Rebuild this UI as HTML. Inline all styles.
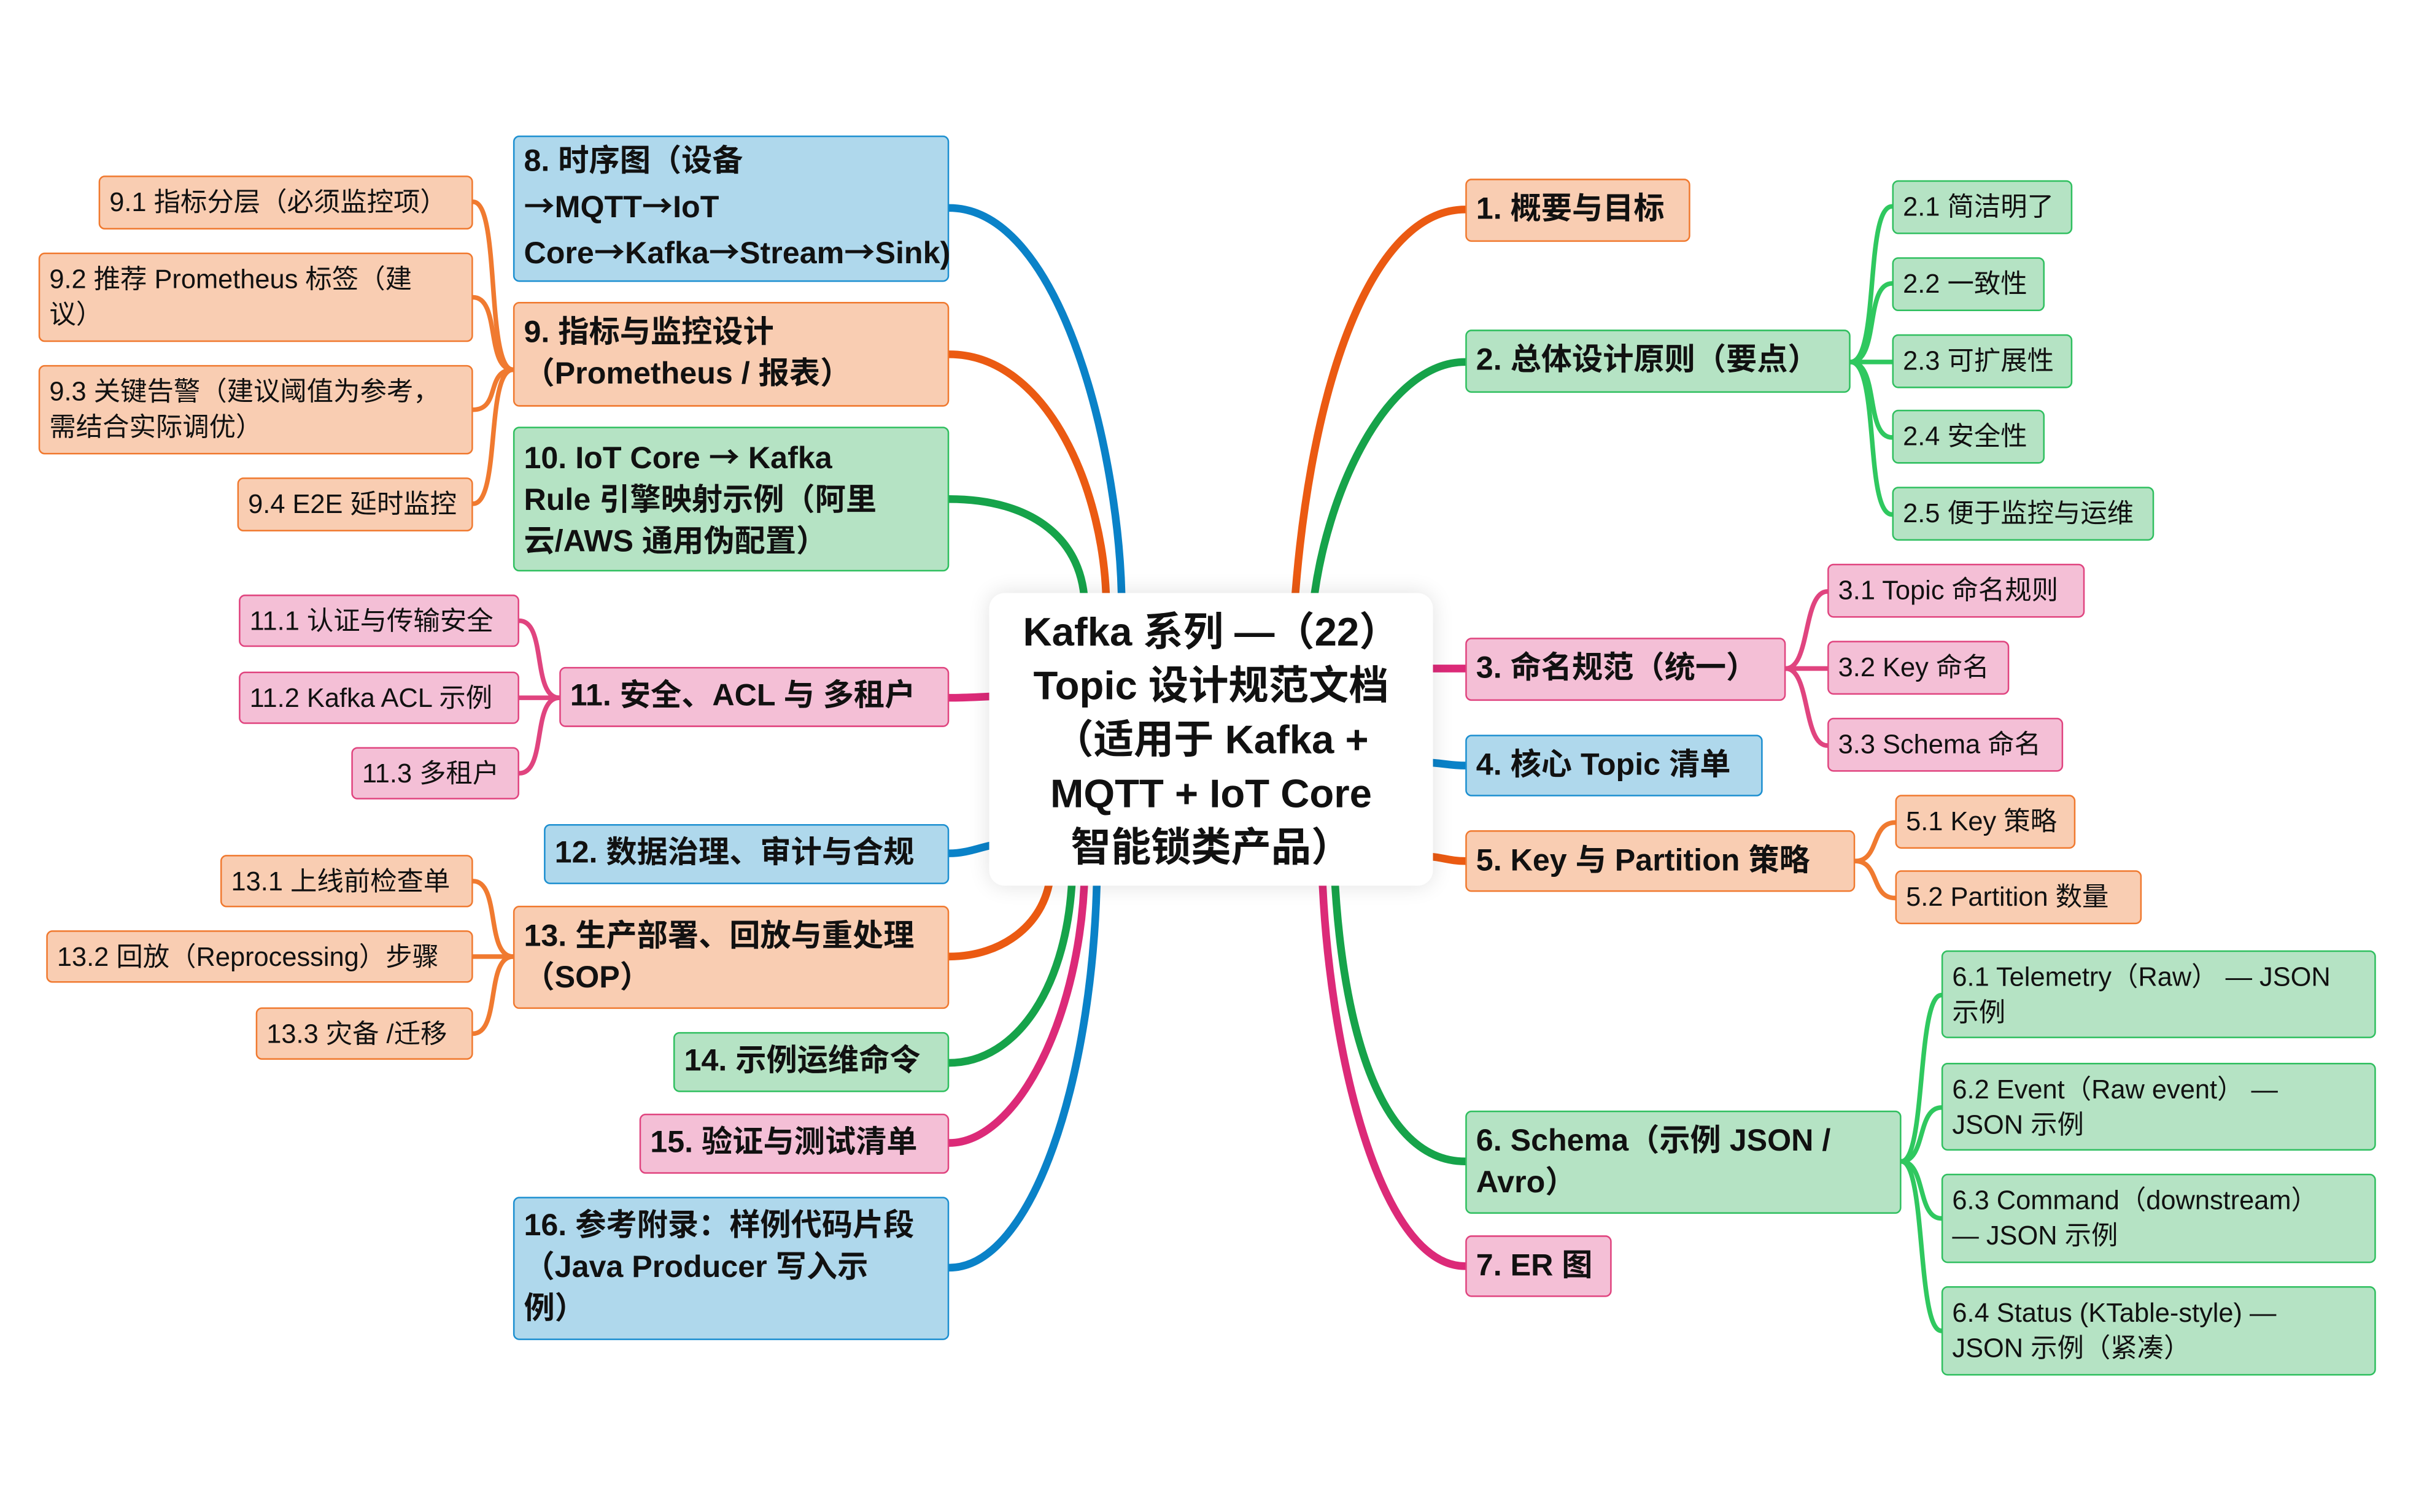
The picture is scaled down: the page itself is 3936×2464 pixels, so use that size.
<!DOCTYPE html>
<html><head><meta charset="utf-8">
<style>
html,body{margin:0;padding:0;background:#fff;}
#wrap{width:3936px;height:2464px;overflow:hidden;position:relative;background:#fff;}
#s{position:absolute;left:0;top:0;width:1568px;height:982px;transform:scale(2.5102);transform-origin:0 0;font-family:"Liberation Sans","Noto Sans CJK SC",sans-serif;}
.b{position:absolute;box-sizing:border-box;border:1.3px solid;border-radius:4px;display:flex;align-items:center;padding:0 6px;color:#111;white-space:nowrap;}
.m{font-weight:bold;font-size:20px;line-height:27px;}
.c{font-size:17.3px;line-height:23px;}
.o{background:#f9cdb2;border-color:#f0792f;}
.g{background:#b5e3c4;border-color:#2fbf5f;}
.p{background:#f4bfd6;border-color:#e0447f;}
.u{background:#afd8ec;border-color:#1c8fd0;}
.ar{font-family:"Noto Sans CJK SC",sans-serif;}
#ctr{position:absolute;left:642px;top:385px;width:288px;height:190px;background:#fff;border-radius:10px;box-shadow:0 0 14px rgba(0,0,0,0.12);font-weight:bold;font-size:26px;line-height:35px;text-align:center;color:#111;display:flex;align-items:center;justify-content:center;}
svg{position:absolute;left:0;top:0;}
</style></head><body><div id="wrap"><div id="s">
<svg width="1568" height="982" fill="none" stroke-linecap="round">
<g stroke-width="5">
<path d="M616 135 C690 135,728 300,728 395" stroke="#0a82c8"/>
<path d="M616 230 C680 230,718 320,718 395" stroke="#eb5a12"/>
<path d="M616 324 C670 324,704 350,704 395" stroke="#16a34a"/>
<path d="M616 453 C630 453,640 452,650 452" stroke="#dc2a78"/>
<path d="M616 554 C630 554,640 548,650 548" stroke="#0a82c8"/>
<path d="M616 621 C650 621,680 600,682 565" stroke="#eb5a12"/>
<path d="M616 690 C660 690,694 640,696 565" stroke="#16a34a"/>
<path d="M616 742 C660 742,702 660,704 565" stroke="#dc2a78"/>
<path d="M616 823 C670 823,710 700,712 565" stroke="#0a82c8"/>
<path d="M951 136 C890 136,850 250,840 395" stroke="#eb5a12"/>
<path d="M951 235 C900 235,860 320,852 395" stroke="#16a34a"/>
<path d="M951 434 L925 434" stroke="#dc2a78"/>
<path d="M951 497 C940 497,935 495,925 495" stroke="#0a82c8"/>
<path d="M951 559 C940 559,935 556,925 556" stroke="#eb5a12"/>
<path d="M951 754 C890 754,870 650,866 565" stroke="#16a34a"/>
<path d="M951 822 C895 822,862 680,858 565" stroke="#dc2a78"/>
</g>
<g stroke-width="3">
<path d="M333 240 C315 240,325 131,307 131" stroke="#f07a30"/>
<path d="M333 240 C315 240,325 193,307 193" stroke="#f07a30"/>
<path d="M333 240 C315 240,325 266,307 266" stroke="#f07a30"/>
<path d="M333 240 C315 240,325 327,307 327" stroke="#f07a30"/>
<path d="M363 453 C345 453,355 403,337 403" stroke="#e0447f"/>
<path d="M363 453 L337 453" stroke="#e0447f"/>
<path d="M363 453 C345 453,355 502,337 502" stroke="#e0447f"/>
<path d="M333 621 C315 621,325 572,307 572" stroke="#f07a30"/>
<path d="M333 621 L307 621" stroke="#f07a30"/>
<path d="M333 621 C315 621,325 671,307 671" stroke="#f07a30"/>
<path d="M1201 235 C1220 235,1210 134,1228 134" stroke="#2fc85f"/>
<path d="M1201 235 C1220 235,1210 184,1228 184" stroke="#2fc85f"/>
<path d="M1201 235 L1228 235" stroke="#2fc85f"/>
<path d="M1201 235 C1220 235,1210 284,1228 284" stroke="#2fc85f"/>
<path d="M1201 235 C1220 235,1210 334,1228 334" stroke="#2fc85f"/>
<path d="M1159 434 C1175 434,1170 384,1186 384" stroke="#e0447f"/>
<path d="M1159 434 L1186 434" stroke="#e0447f"/>
<path d="M1159 434 C1175 434,1170 484,1186 484" stroke="#e0447f"/>
<path d="M1204 559 C1220 559,1214 534,1230 534" stroke="#f07a30"/>
<path d="M1204 559 C1220 559,1214 583,1230 583" stroke="#f07a30"/>
<path d="M1234 754 C1250 754,1244 646,1260 646" stroke="#2fc85f"/>
<path d="M1234 754 C1250 754,1244 719,1260 719" stroke="#2fc85f"/>
<path d="M1234 754 C1250 754,1244 791,1260 791" stroke="#2fc85f"/>
<path d="M1234 754 C1250 754,1244 864,1260 864" stroke="#2fc85f"/>
</g>
</svg>
<div id="ctr"><div>Kafka 系列 —（22）<br>Topic 设计规范文档<br>（适用于 Kafka +<br>MQTT + IoT Core<br>智能锁类产品）</div></div>

<div class="b m o" style="left:951px;top:116px;width:146px;height:41px">1. 概要与目标</div>
<div class="b m g" style="left:951px;top:214px;width:250px;height:41px">2. 总体设计原则（要点）</div>
<div class="b c g" style="left:1228px;top:117px;width:117px;height:35px">2.1 简洁明了</div>
<div class="b c g" style="left:1228px;top:167px;width:99px;height:35px">2.2 一致性</div>
<div class="b c g" style="left:1228px;top:217px;width:117px;height:35px">2.3 可扩展性</div>
<div class="b c g" style="left:1228px;top:266px;width:99px;height:35px">2.4 安全性</div>
<div class="b c g" style="left:1228px;top:316px;width:170px;height:35px">2.5 便于监控与运维</div>
<div class="b m p" style="left:951px;top:414px;width:208px;height:41px">3. 命名规范（统一）</div>
<div class="b c p" style="left:1186px;top:366px;width:167px;height:35px">3.1 Topic 命名规则</div>
<div class="b c p" style="left:1186px;top:416px;width:118px;height:35px">3.2 Key 命名</div>
<div class="b c p" style="left:1186px;top:466px;width:153px;height:35px">3.3 Schema 命名</div>
<div class="b m u" style="left:951px;top:477px;width:193px;height:40px">4. 核心 Topic 清单</div>
<div class="b m o" style="left:951px;top:539px;width:253px;height:40px">5. Key 与 Partition 策略</div>
<div class="b c o" style="left:1230px;top:516px;width:117px;height:35px">5.1 Key 策略</div>
<div class="b c o" style="left:1230px;top:565px;width:160px;height:35px">5.2 Partition 数量</div>
<div class="b m g" style="left:951px;top:721px;width:283px;height:67px">6. Schema（示例 JSON /<br>Avro）</div>
<div class="b c g" style="left:1260px;top:617px;width:282px;height:57px">6.1 Telemetry（Raw） — JSON<br>示例</div>
<div class="b c g" style="left:1260px;top:690px;width:282px;height:57px">6.2 Event（Raw event） —<br>JSON 示例</div>
<div class="b c g" style="left:1260px;top:762px;width:282px;height:58px">6.3 Command（downstream）<br>— JSON 示例</div>
<div class="b c g" style="left:1260px;top:835px;width:282px;height:58px">6.4 Status (KTable-style) —<br>JSON 示例（紧凑）</div>
<div class="b m p" style="left:951px;top:802px;width:95px;height:40px">7. ER 图</div>

<div class="b m u" style="left:333px;top:88px;width:283px;height:95px"><div>8. 时序图（设备<br><span class="ar">→</span>MQTT<span class="ar">→</span>IoT<br>Core<span class="ar">→</span>Kafka<span class="ar">→</span>Stream<span class="ar">→</span>Sink)</div></div>
<div class="b m o" style="left:333px;top:196px;width:283px;height:68px">9. 指标与监控设计<br>（Prometheus / 报表）</div>
<div class="b c o" style="left:64px;top:114px;width:243px;height:35px">9.1 指标分层（必须监控项）</div>
<div class="b c o" style="left:25px;top:164px;width:282px;height:58px">9.2 推荐 Prometheus 标签（建<br>议）</div>
<div class="b c o" style="left:25px;top:237px;width:282px;height:58px">9.3 关键告警（建议阈值为参考，<br>需结合实际调优）</div>
<div class="b c o" style="left:154px;top:310px;width:153px;height:35px">9.4 E2E 延时监控</div>
<div class="b m g" style="left:333px;top:277px;width:283px;height:94px"><div>10. IoT Core <span class="ar">→</span> Kafka<br>Rule 引擎映射示例（阿里<br>云/AWS 通用伪配置）</div></div>
<div class="b m p" style="left:363px;top:433px;width:253px;height:39px">11. 安全、ACL 与 多租户</div>
<div class="b c p" style="left:155px;top:386px;width:182px;height:34px">11.1 认证与传输安全</div>
<div class="b c p" style="left:155px;top:436px;width:182px;height:34px">11.2 Kafka ACL 示例</div>
<div class="b c p" style="left:228px;top:485px;width:109px;height:34px">11.3 多租户</div>
<div class="b m u" style="left:353px;top:535px;width:263px;height:39px">12. 数据治理、审计与合规</div>
<div class="b m o" style="left:333px;top:588px;width:283px;height:67px">13. 生产部署、回放与重处理<br>（SOP）</div>
<div class="b c o" style="left:143px;top:555px;width:164px;height:34px">13.1 上线前检查单</div>
<div class="b c o" style="left:30px;top:604px;width:277px;height:34px">13.2 回放（Reprocessing）步骤</div>
<div class="b c o" style="left:166px;top:654px;width:141px;height:34px">13.3 灾备 /迁移</div>
<div class="b m g" style="left:437px;top:670px;width:179px;height:39px">14. 示例运维命令</div>
<div class="b m p" style="left:415px;top:723px;width:201px;height:39px">15. 验证与测试清单</div>
<div class="b m u" style="left:333px;top:777px;width:283px;height:93px">16. 参考附录：样例代码片段<br>（Java Producer 写入示<br>例）</div>
</div></div></body></html>
